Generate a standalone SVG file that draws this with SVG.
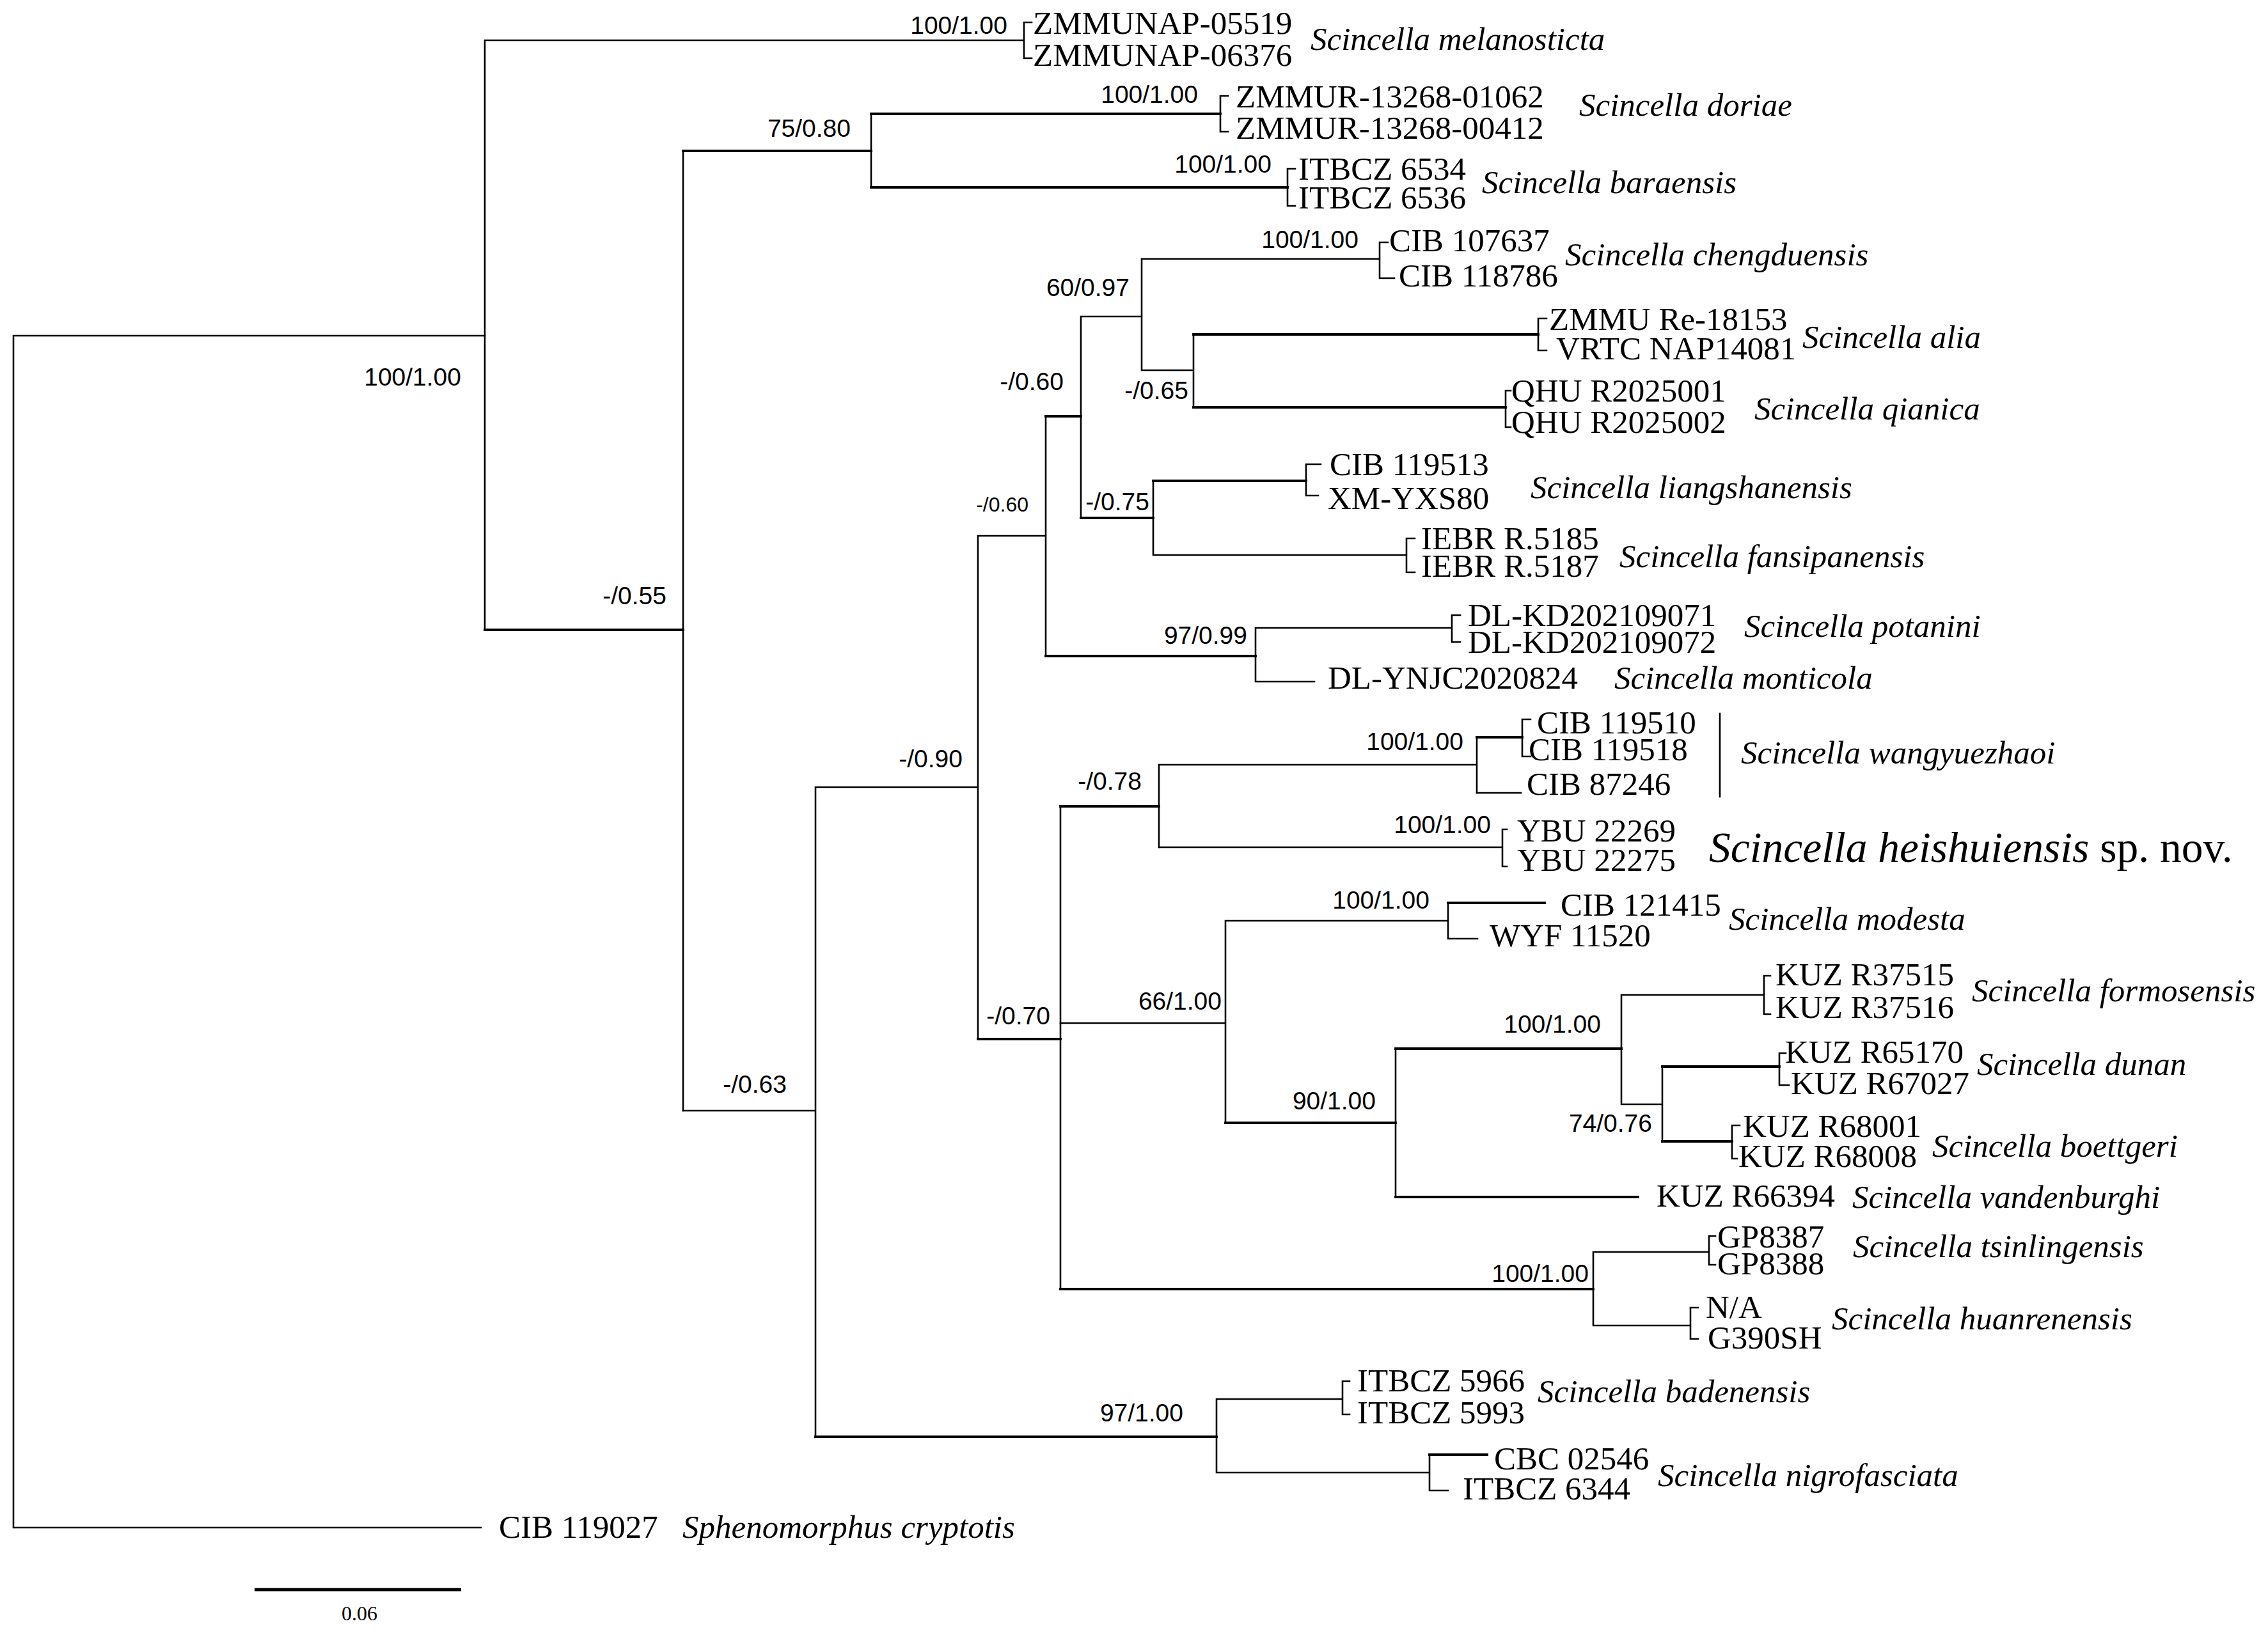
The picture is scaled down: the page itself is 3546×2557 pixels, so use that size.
<svg xmlns="http://www.w3.org/2000/svg" width="3546" height="2557" viewBox="0 0 3546 2557">
<style>
.e{fill:none;stroke:#000;stroke-width:2.6;stroke-linecap:square}
.t{fill:none;stroke:#000;stroke-width:3.8;stroke-linecap:square}
.s{font-family:"Liberation Serif","Times New Roman",serif;font-size:51px;fill:#000}
.i{font-family:"Liberation Serif","Times New Roman",serif;font-size:51px;font-style:italic;fill:#000}
.b{font-family:"Liberation Sans",Arial,sans-serif;font-size:39px;fill:#000;text-anchor:end}
.bs{font-family:"Liberation Sans",Arial,sans-serif;font-size:32px;fill:#000;text-anchor:end}
</style>
<rect width="3546" height="2557" fill="#fff"/>
<g id="connectors">
<path class="e" d="M21 525V2389M21 525H758M21 2389H752"/>
<path class="e" d="M758 63V985M758 63H1601M1613 35H1601V91H1613"/>
<path class="t" d="M758 985H1068"/>
<path class="e" d="M1068 236V1737"/>
<path class="t" d="M1068 236H1362"/>
<path class="e" d="M1362 178V293"/>
<path class="t" d="M1362 178H1908M1362 293H2013"/>
<path class="e" d="M1920 150H1908V206H1920M2025 264H2013V322H2025"/>
<path class="e" d="M1068 1737H1275M1275 1231V2247M1275 1231H1529M1529 838V1625M1529 838H1635M1635 651V1026"/>
<path class="t" d="M1635 651H1690"/>
<path class="e" d="M1690 495V810M1690 495H1785M1785 405V579M1785 405H2157M2170 379H2157V435H2180M1785 579H1866M1866 523V637"/>
<path class="t" d="M1866 523H2405M1866 637H2354"/>
<path class="e" d="M2418 498H2405V548H2418M2362 611H2354V668H2362"/>
<path class="t" d="M1690 810H1803M1803 752H2042"/>
<path class="e" d="M1803 752V868M2065 726H2042V775H2061M1803 868H2199M2212 842H2199V895H2212"/>
<path class="t" d="M1635 1026H1963"/>
<path class="e" d="M1963 982V1066M1963 982H2270M2283 962H2270V1004H2283M1963 1066H2055"/>
<path class="t" d="M1529 1625H1658M1658 1261H1812"/>
<path class="e" d="M1658 1261V2016M1812 1196V1325M1812 1196H2309M2309 1153V1240"/>
<path class="t" d="M2309 1153H2380"/>
<path class="e" d="M2393 1125H2380V1183H2393M2309 1240H2378M1812 1325H2349M2356 1297H2349V1355H2356"/>
<path class="e" d="M2689 1116V1246"/>
<path class="e" d="M1658 1600H1916M1916 1440V1756M1916 1440H2264M2264 1412V1468M2264 1468H2310"/>
<path class="t" d="M2264 1412H2415M1916 1756H2182M2182 1640H2535"/>
<path class="e" d="M2182 1640V1872M2535 1556V1727M2535 1556H2758M2768 1526H2758V1586H2768M2535 1727H2599M2599 1668V1785"/>
<path class="t" d="M2599 1668H2782M2599 1785H2708M2182 1872H2561"/>
<path class="e" d="M2792 1647H2782V1697H2797M2720 1760H2708V1812H2716"/>
<path class="t" d="M1658 2016H2491"/>
<path class="e" d="M2491 1958V2073M2491 1958H2672M2682 1933H2672V1978H2682M2491 2073H2643M2655 2045H2643V2094H2655"/>
<path class="t" d="M1275 2247H1902"/>
<path class="e" d="M1902 2188V2303M1902 2188H2099M2110 2160H2099V2212H2110M1902 2303H2235M2235 2275V2331M2235 2331H2264"/>
<path class="t" d="M2235 2275H2325"/>
</g>
<g id="support">
<text class="b" x="721" y="603">100/1.00</text>
<text class="b" x="1042" y="945">-/0.55</text>
<text class="b" x="1575" y="53">100/1.00</text>
<text class="b" x="1330" y="214">75/0.80</text>
<text class="b" x="1873" y="161">100/1.00</text>
<text class="b" x="1988" y="270">100/1.00</text>
<text class="b" x="2124" y="388">100/1.00</text>
<text class="b" x="1766" y="463">60/0.97</text>
<text class="b" x="1858" y="624">-/0.65</text>
<text class="b" x="1663" y="610">-/0.60</text>
<text class="b" x="1797" y="798">-/0.75</text>
<text class="bs" x="1608" y="800">-/0.60</text>
<text class="b" x="1950" y="1007">97/0.99</text>
<text class="b" x="1505" y="1200">-/0.90</text>
<text class="b" x="1785" y="1235">-/0.78</text>
<text class="b" x="2288" y="1173">100/1.00</text>
<text class="b" x="2331" y="1303">100/1.00</text>
<text class="b" x="2235" y="1421">100/1.00</text>
<text class="b" x="1910" y="1579">66/1.00</text>
<text class="b" x="1642" y="1602">-/0.70</text>
<text class="b" x="2503" y="1615">100/1.00</text>
<text class="b" x="2151" y="1735">90/1.00</text>
<text class="b" x="2583" y="1770">74/0.76</text>
<text class="b" x="1230" y="1709">-/0.63</text>
<text class="b" x="2484" y="2005">100/1.00</text>
<text class="b" x="1850" y="2223">97/1.00</text>
</g>
<g id="tip-melanosticta"><text class="s" x="1615" y="53">ZMMUNAP-05519</text><text class="s" x="1615" y="103">ZMMUNAP-06376</text><text class="i" x="2049" y="78">Scincella melanosticta</text></g>
<g id="tip-doriae"><text class="s" x="1932" y="168">ZMMUR-13268-01062</text><text class="s" x="1932" y="217">ZMMUR-13268-00412</text><text class="i" x="2469" y="181">Scincella doriae</text></g>
<g id="tip-baraensis"><text class="s" x="2030" y="281">ITBCZ 6534</text><text class="s" x="2030" y="326">ITBCZ 6536</text><text class="i" x="2317" y="302">Scincella baraensis</text></g>
<g id="tip-chengduensis"><text class="s" x="2172" y="393">CIB 107637</text><text class="s" x="2187" y="448">CIB 118786</text><text class="i" x="2447" y="415">Scincella chengduensis</text></g>
<g id="tip-alia"><text class="s" x="2422" y="516">ZMMU Re-18153</text><text class="s" x="2433" y="562">VRTC NAP14081</text><text class="i" x="2818" y="544">Scincella alia</text></g>
<g id="tip-qianica"><text class="s" x="2363" y="628">QHU R2025001</text><text class="s" x="2363" y="677">QHU R2025002</text><text class="i" x="2743" y="656">Scincella qianica</text></g>
<g id="tip-liangshanensis"><text class="s" x="2079" y="743">CIB 119513</text><text class="s" x="2076" y="796">XM-YXS80</text><text class="i" x="2393" y="779">Scincella liangshanensis</text></g>
<g id="tip-fansipanensis"><text class="s" x="2222" y="859">IEBR R.5185</text><text class="s" x="2222" y="902">IEBR R.5187</text><text class="i" x="2532" y="887">Scincella fansipanensis</text></g>
<g id="tip-potanini"><text class="s" x="2295" y="979">DL-KD202109071</text><text class="s" x="2295" y="1021">DL-KD202109072</text><text class="i" x="2727" y="996">Scincella potanini</text></g>
<g id="tip-monticola"><text class="s" x="2076" y="1077">DL-YNJC2020824</text><text class="i" x="2524" y="1077">Scincella monticola</text></g>
<g id="tip-wangyuezhaoi"><text class="s" x="2403" y="1147">CIB 119510</text><text class="s" x="2390" y="1189">CIB 119518</text><text class="s" x="2387" y="1243">CIB 87246</text><text class="i" x="2722" y="1194">Scincella wangyuezhaoi</text></g>
<g id="tip-heishuiensis"><text class="s" x="2372" y="1316">YBU 22269</text><text class="s" x="2372" y="1362">YBU 22275</text><text class="s" x="2672" y="1348" style="font-size:67.5px"><tspan font-style="italic">Scincella heishuiensis</tspan> sp. nov.</text></g>
<g id="tip-modesta"><text class="s" x="2440" y="1432">CIB 121415</text><text class="s" x="2329" y="1480">WYF 11520</text><text class="i" x="2703" y="1454">Scincella modesta</text></g>
<g id="tip-formosensis"><text class="s" x="2776" y="1541">KUZ R37515</text><text class="s" x="2776" y="1592">KUZ R37516</text><text class="i" x="3083" y="1566">Scincella formosensis</text></g>
<g id="tip-dunan"><text class="s" x="2791" y="1662">KUZ R65170</text><text class="s" x="2800" y="1711">KUZ R67027</text><text class="i" x="3091" y="1681">Scincella dunan</text></g>
<g id="tip-boettgeri"><text class="s" x="2725" y="1778">KUZ R68001</text><text class="s" x="2718" y="1825">KUZ R68008</text><text class="i" x="3021" y="1809">Scincella boettgeri</text></g>
<g id="tip-vandenburghi"><text class="s" x="2590" y="1887">KUZ R66394</text><text class="i" x="2896" y="1889">Scincella vandenburghi</text></g>
<g id="tip-tsinlingensis"><text class="s" x="2685" y="1951">GP8387</text><text class="s" x="2685" y="1993">GP8388</text><text class="i" x="2897" y="1966">Scincella tsinlingensis</text></g>
<g id="tip-huanrenensis"><text class="s" x="2667" y="2061">N/A</text><text class="s" x="2670" y="2109">G390SH</text><text class="i" x="2864" y="2079">Scincella huanrenensis</text></g>
<g id="tip-badenensis"><text class="s" x="2122" y="2176">ITBCZ 5966</text><text class="s" x="2122" y="2226">ITBCZ 5993</text><text class="i" x="2404" y="2193">Scincella badenensis</text></g>
<g id="tip-nigrofasciata"><text class="s" x="2336" y="2298">CBC 02546</text><text class="s" x="2287" y="2345">ITBCZ 6344</text><text class="i" x="2592" y="2324">Scincella nigrofasciata</text></g>
<g id="tip-outgroup"><text class="s" x="780" y="2405">CIB 119027</text><text class="i" x="1067" y="2405">Sphenomorphus cryptotis</text></g>
<g id="scale-bar">
<path d="M398 2486H721" stroke="#000" stroke-width="5" fill="none"/>
<text x="562" y="2534" text-anchor="middle" font-family="Liberation Serif,Times New Roman,serif" font-size="32">0.06</text>
</g>
</svg>
